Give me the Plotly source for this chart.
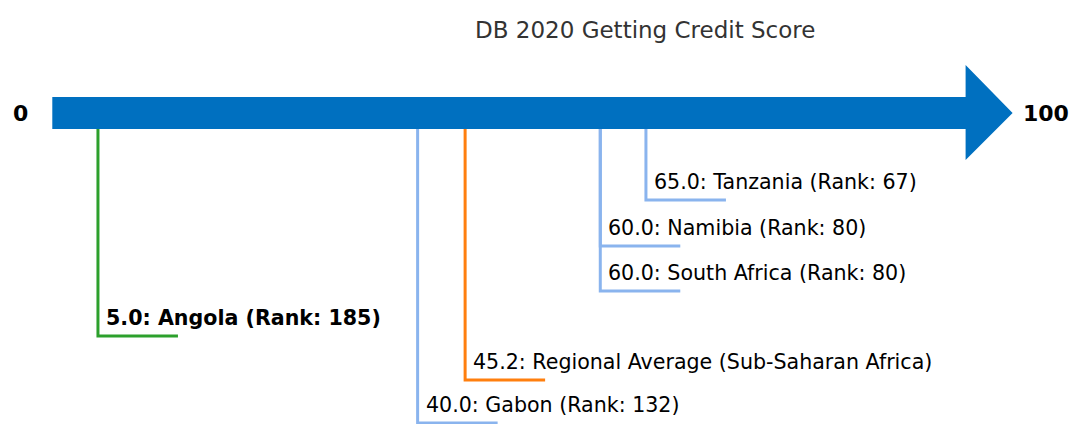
import plotly.graph_objects as go

# ---- data ----
labels = ["Tanzania (Rank: 67)", "Namibia (Rank: 80)", "South Africa (Rank: 80)",
          "Angola (Rank: 185)", "Regional Average (Sub-Saharan Africa)", "Gabon (Rank: 132)"]
scores = [65.0, 60.0, 60.0, 5.0, 45.2, 40.0]
kinds = ["peer", "peer", "peer", "focus", "average", "peer"]
scale_min, scale_max = 0, 100
title = "DB 2020 Getting Credit Score"

# ---- layout / style ----
W, H = 1072, 424
X0_PX, PX_PER_UNIT = 52.3, 9.133          # pixel of score 0, pixels per score unit
levels_px = [200, 246, 291, 336, 380, 423]  # y pixel of each label's baseline tick
colors = {"peer": "#8ab4ee", "focus": "#2ca02c", "average": "#ff7f0e"}
ARROW_TOP, ARROW_BOT = 97, 129
HEAD_TOP, HEAD_BOT, HEAD_MID = 65, 160, 113
HEAD_LEN_PX = 47
TICK_LEN_PX = 80
FONT = "DejaVu Sans"

xr = [-X0_PX / PX_PER_UNIT, (W - X0_PX) / PX_PER_UNIT]
head_len = HEAD_LEN_PX / PX_PER_UNIT
tick_len = TICK_LEN_PX / PX_PER_UNIT

fig = go.Figure()

# arrow
path = (f"M {scale_min},{ARROW_TOP} L {scale_max},{ARROW_TOP} L {scale_max},{HEAD_TOP} "
        f"L {scale_max + head_len},{HEAD_MID} L {scale_max},{HEAD_BOT} L {scale_max},{ARROW_BOT} "
        f"L {scale_min},{ARROW_BOT} Z")
fig.add_shape(type="path", path=path, fillcolor="#0070c0", line=dict(width=0), layer="below")

annotations = []
for lab, sc, kd, lv in zip(labels, scores, kinds, levels_px):
    c = colors[kd]
    fig.add_trace(go.Scatter(x=[sc, sc, sc + tick_len], y=[ARROW_BOT, lv, lv], mode="lines",
                             line=dict(color=c, width=3), hoverinfo="skip", showlegend=False))
    txt = f"{sc:.1f}: {lab}"
    if kd == "focus":
        txt = f"<b>{txt}</b>"
    annotations.append(dict(x=sc, y=lv - 18, xref="x", yref="y", text=txt, showarrow=False,
                            xanchor="left", yanchor="middle", xshift=6,
                            font=dict(family=FONT, size=20.6, color="#000000")))

annotations.append(dict(x=scale_min, y=HEAD_MID, xref="x", yref="y", text=f"<b>{scale_min}</b>",
                        showarrow=False, xanchor="center", yanchor="middle", xshift=-32,
                        font=dict(family=FONT, size=22, color="#000000")))
annotations.append(dict(x=scale_max + head_len, y=HEAD_MID, xref="x", yref="y",
                        text=f"<b>{scale_max}</b>", showarrow=False, xanchor="left",
                        yanchor="middle", xshift=8,
                        font=dict(family=FONT, size=22, color="#000000")))
annotations.append(dict(x=645 / W, y=30, xref="paper", yref="y", text=title, showarrow=False,
                        xanchor="center", yanchor="middle",
                        font=dict(family=FONT, size=23, color="#333333")))

fig.update_layout(
    width=W, height=H, margin=dict(l=0, r=0, t=0, b=0),
    paper_bgcolor="white", plot_bgcolor="white",
    xaxis=dict(range=xr, visible=False, fixedrange=True),
    yaxis=dict(range=[H, 0], visible=False, fixedrange=True),
    annotations=annotations, showlegend=False,
)
fig.write_html("out.html")
